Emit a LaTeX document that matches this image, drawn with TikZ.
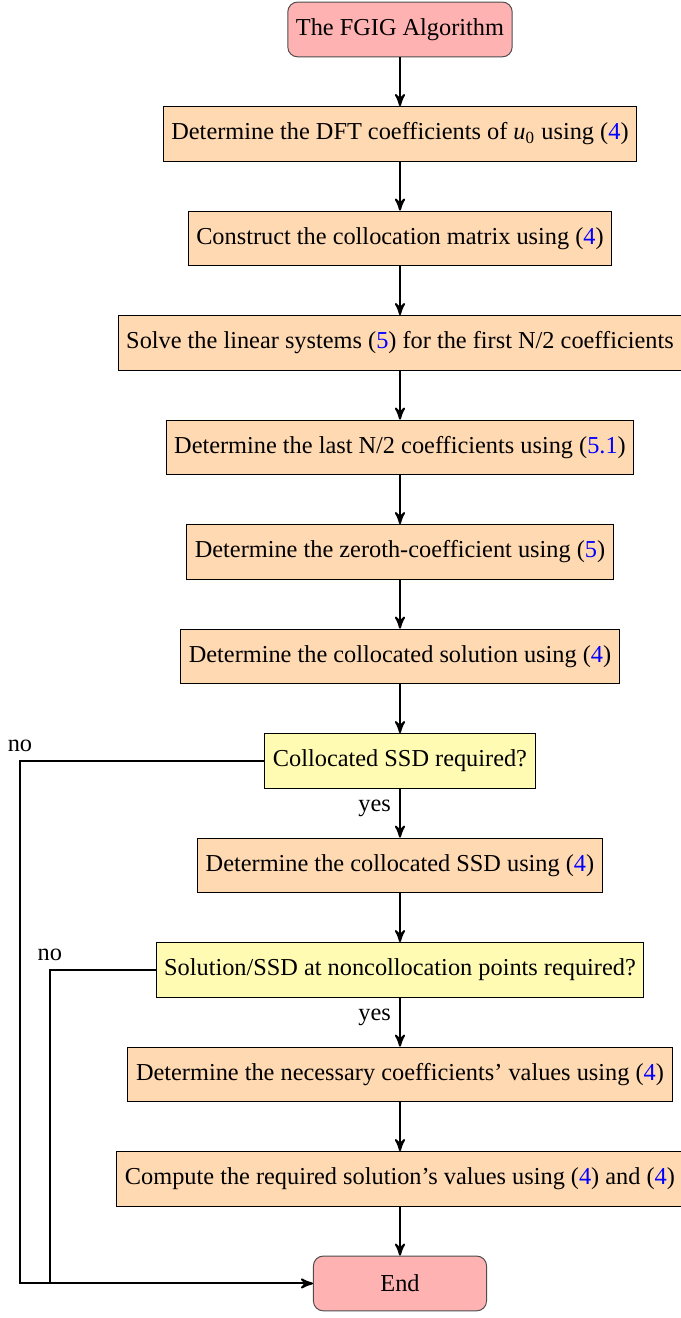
\documentclass[tikz,border=0pt]{standalone}
\usepackage{fontspec}
\setmainfont{Liberation Serif}
\usetikzlibrary{arrows,positioning,shapes}
\colorlet{stopfill}{red!30}
\colorlet{procfill}{orange!30}
\colorlet{askfill}{yellow!30}
\newcommand{\eqlink}[1]{(\textcolor{blue}{#1})}

\tikzset{
  startstop/.style={rectangle, rounded corners, draw=black!70, fill=stopfill,
                    minimum width=2.5cm, minimum height=22.5pt, align=center},
  process/.style={rectangle, draw=black, fill=procfill,
                  minimum height=22.5pt, align=center},
  decision/.style={rectangle, draw=black, fill=askfill,
                   minimum height=22.5pt, align=center},
  flow/.style={thick, ->, >=stealth'}
}

\begin{document}
\begin{tikzpicture}[node distance=20.05pt]
  % Frame to fix the margins
  \useasboundingbox (-164.4pt,12.1pt) rectangle (115.1pt,-529.6pt);
  % Main chain
  \node (start) [startstop] at (0,0) {The FGIG Algorithm};
  \node (dft)   [process, below=of start] {Determine the DFT coefficients of \textit{u}\textsubscript{0} using \eqlink{4}};
  \node (mat)   [process, below=of dft]   {Construct the collocation matrix using \eqlink{4}};
  \node (solve) [process, below=of mat]   {Solve the linear systems \eqlink{5} for the first N/2 coefficients};
  \node (last)  [process, below=of solve] {Determine the last N/2 coefficients using \eqlink{5.1}};
  \node (zero)  [process, below=of last]  {Determine the zeroth-coefficient using \eqlink{5}};
  \node (sol)   [process, below=of zero]  {Determine the collocated solution using \eqlink{4}};
  \node (askssd) [decision, below=of sol] {Collocated SSD required?};
  \node (ssd)   [process, below=of askssd] {Determine the collocated SSD using \eqlink{4}};
  \node (asknc) [decision, below=of ssd]  {Solution/SSD at noncollocation points required?};
  \node (coef)  [process, below=of asknc] {Determine the necessary coefficients' values using \eqlink{4}};
  \node (comp)  [process, below=of coef]  {Compute the required solution's values using \eqlink{4} and \eqlink{4}};
  \node (stop)  [startstop, below=of comp] {End};
  % Bypass rails
  \coordinate (outer) at (-156.2pt,0);
  \coordinate (inner) at (-143.9pt,0);
  % Arrows
  \draw[flow] (start) -- (dft);
  \draw[flow] (dft) -- (mat);
  \draw[flow] (mat) -- (solve);
  \draw[flow] (solve) -- (last);
  \draw[flow] (last) -- (zero);
  \draw[flow] (zero) -- (sol);
  \draw[flow] (sol) -- (askssd);
  \draw[flow] (askssd) -- node[left, pos=0.4] {yes} (ssd);
  \draw[flow] (ssd) -- (asknc);
  \draw[flow] (asknc) -- node[left, pos=0.4] {yes} (coef);
  \draw[flow] (coef) -- (comp);
  \draw[flow] (comp) -- (stop);
  \draw[flow] (askssd.west) -- (outer |- askssd.west) node[above] {no} |- (stop.west);
  \draw[thick] (asknc.west) -- (inner |- asknc.west) node[above] {no} -- (inner |- stop.west);
\end{tikzpicture}
\end{document}
